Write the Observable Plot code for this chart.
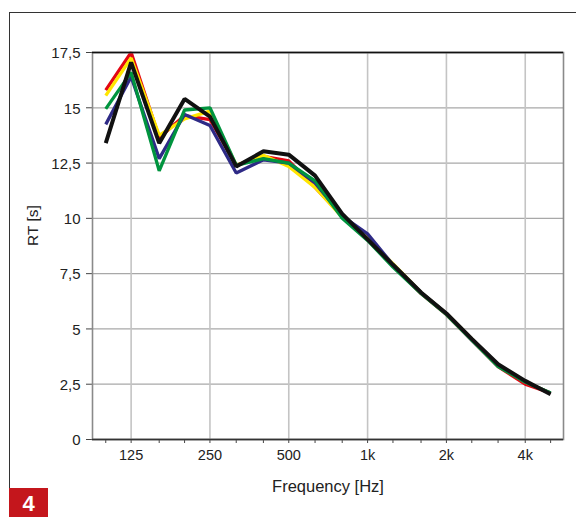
<!DOCTYPE html>
<html><head><meta charset="utf-8">
<script src="https://cdn.jsdelivr.net/npm/d3@7"></script>
<script src="https://cdn.jsdelivr.net/npm/@observablehq/plot@0.6"></script>
<style>
html,body{margin:0;padding:0;background:#fff;}
#wrap{position:relative;width:576px;height:517px;overflow:hidden;font-family:"Liberation Sans",Arial,sans-serif;}
#frame{position:absolute;left:9px;top:12px;width:600px;height:600px;border-top:1.5px solid #333;border-left:1.5px solid #333;box-sizing:border-box;pointer-events:none;}
#badge{position:absolute;left:9px;top:488px;width:39px;height:29px;background:#c4161c;color:#fff;font-weight:bold;font-size:22px;line-height:31px;text-align:center;}
#chart{position:absolute;left:0;top:0;}
</style></head>
<body>
<div id="wrap"><div id="chart"></div><div id="frame"></div><div id="badge">4</div></div>
<script>
const freqs = [100,125,160,200,250,315,400,500,630,800,1000,1250,1600,2000,2500,3150,4000,5000];
const red    = [15.8, 17.5, 13.65, 14.65, 14.47, 12.4, 12.8, 12.6, 11.4, 10.1, 9.05, 7.85, 6.6, 5.65, 4.5, 3.3, 2.5, 2.1];
const yellow = [15.55, 17.25, 13.75, 14.5, 14.85, 12.4, 12.85, 12.35, 11.4, 10.05, 9.1, 7.95, 6.65, 5.7, 4.55, 3.35, 2.6, 2.1];
const purple = [14.25, 16.4, 12.7, 14.7, 14.2, 12.05, 12.65, 12.5, 11.6, 10.1, 9.3, 7.9, 6.65, 5.7, 4.5, 3.35, 2.6, 2.1];
const green  = [14.95, 16.6, 12.15, 14.9, 15.0, 12.4, 12.7, 12.5, 11.7, 10.0, 9.0, 7.8, 6.6, 5.65, 4.5, 3.3, 2.6, 2.1];
const black  = [13.4, 17.05, 13.4, 15.4, 14.6, 12.35, 13.03, 12.88, 11.93, 10.2, 9.05, 7.9, 6.65, 5.7, 4.55, 3.4, 2.65, 2.05];
const xTicks = [125,250,500,1000,2000,4000];
const xTickLabels = ["125","250","500","1k","2k","4k"];
const yTicks = [0,2.5,5,7.5,10,12.5,15,17.5];
const yTickLabels = ["0","2,5","5","7,5","10","12,5","15","17,5"];

const series = [
  {name:"red", values:red, color:"#e30613", w:3.3},
  {name:"yellow", values:yellow, color:"#ffe600", w:3.3},
  {name:"purple", values:purple, color:"#2e2a86", w:3.3},
  {name:"green", values:green, color:"#00943e", w:3.3},
  {name:"black", values:black, color:"#111111", w:4}
];
const rows = s => freqs.map((f,i)=>({f, v:s.values[i]}));
const xT = xTicks.map((d,i)=>({d, t:xTickLabels[i]}));
const yT = yTicks.map((d,i)=>({d, t:yTickLabels[i]}));

const chart = Plot.plot({
  width:576, height:517,
  marginLeft:92, marginRight:13, marginTop:52, marginBottom:78,
  style:{fontFamily:"'Liberation Sans', Arial, sans-serif", color:"#222", background:"transparent"},
  x:{type:"log", domain:[89,5600]},
  y:{domain:[0,17.5]},
  marks:[
    Plot.gridY(yTicks, {stroke:"#a8a8a8", strokeOpacity:1, strokeWidth:1.3}),
    Plot.gridX(xTicks, {stroke:"#c4c4c4", strokeOpacity:1, strokeWidth:1.6}),
    Plot.axisX(freqs, {tickFormat:()=>"", tickSize:4, stroke:"#444", label:null}),
    Plot.axisY(yTicks, {tickFormat:()=>"", tickSize:6, stroke:"#444", label:null}),
    Plot.text(xT, {x:"d", text:"t", frameAnchor:"bottom", lineAnchor:"middle", dy:16, fontSize:14.5, fill:"#222"}),
    Plot.text(yT, {y:"d", text:"t", frameAnchor:"left", textAnchor:"end", lineAnchor:"middle", dx:-12, dy:1, fontSize:15, fill:"#222"}),
    Plot.text(["Frequency [Hz]"], {frameAnchor:"bottom", lineAnchor:"bottom", dy:52, fontSize:16.5, fill:"#222"}),
    Plot.text(["RT [s]"], {frameAnchor:"left", rotate:-90, lineAnchor:"middle", dx:-59, fontSize:15.5, fill:"#222"}),
    ...series.map(s => Plot.line(rows(s), {x:"f", y:"v", stroke:s.color, strokeWidth:s.w, strokeLinejoin:"miter", strokeLinecap:"butt"})),
    Plot.frame({stroke:"#8a8a8a", strokeWidth:1.6}),
    Plot.ruleY([17.5], {stroke:"#111", strokeWidth:1.6}),
    Plot.ruleY([0], {stroke:"#333", strokeWidth:1.6})
  ]
});
document.getElementById("chart").appendChild(chart);
</script>
</body></html>
